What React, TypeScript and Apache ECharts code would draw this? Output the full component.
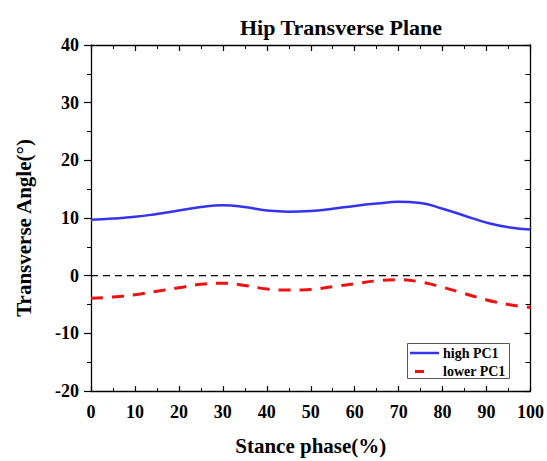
import React, { useEffect, useRef } from "react";
import * as echarts from "echarts";

// Stance phase (%) sampled every 5 %
const phase = [0, 5, 10, 15, 20, 25, 30, 35, 40, 45, 50, 55, 60, 65, 70, 75, 80, 85, 90, 95, 100];
// Hip transverse angle (°)
const highPC1 = [9.7, 9.9, 10.2, 10.7, 11.3, 11.9, 12.2, 11.9, 11.3, 11.1, 11.2, 11.6, 12.1, 12.5, 12.8, 12.6, 11.6, 10.4, 9.2, 8.4, 8.0];
const lowerPC1 = [-3.9, -3.7, -3.3, -2.7, -2.1, -1.5, -1.3, -1.7, -2.3, -2.5, -2.4, -1.9, -1.4, -0.9, -0.7, -1.1, -2.0, -3.1, -4.2, -5.0, -5.5];
const zeroLine = [0, 100];
const seriesNames = ["high PC1", "lower PC1"];

const FONT = '"Times New Roman", "Liberation Serif", serif';
const BLUE = "#3434ee";
const RED = "#ee1111";

export default function App() {
  const ref = useRef<HTMLDivElement>(null);

  useEffect(() => {
    if (!ref.current) return;
    const chart = echarts.init(ref.current, null, { renderer: "svg" });
    const axisLine = { show: true, onZero: false, lineStyle: { color: "#000", width: 1.3 } };
    const labelStyle = { color: "#000", fontFamily: FONT, fontWeight: "bold" as const, fontSize: 18 };
    const nameStyle = { fontFamily: FONT, fontWeight: "bold" as const, fontSize: 21, color: "#000" };
    const legendFont = `bold 14px ${FONT}`;

    chart.setOption({
      animation: false,
      backgroundColor: "#fff",
      title: {
        text: "Hip Transverse Plane",
        left: 336,
        textAlign: "center",
        top: 11,
        textStyle: { fontFamily: FONT, fontWeight: "bold", fontSize: 22, color: "#000" },
      },
      grid: { left: 91, right: 16, top: 45, bottom: 62 },
      // boxed key in the lower right corner: a solid blue sample and a single red dash
      graphic: [
        {
          type: "group",
          left: 407,
          top: 343,
          z: 100,
          silent: true,
          children: [
            {
              type: "rect",
              shape: { x: 0.5, y: 0.5, width: 102, height: 35 },
              style: { fill: "#fff", stroke: "#555", lineWidth: 1 },
            },
            {
              type: "line",
              shape: { x1: 3, y1: 10, x2: 32, y2: 10 },
              style: { stroke: BLUE, lineWidth: 2.5 },
            },
            {
              type: "line",
              shape: { x1: 8, y1: 28.5, x2: 17, y2: 28.5 },
              style: { stroke: RED, lineWidth: 3 },
            },
            {
              type: "text",
              x: 36,
              y: 10,
              style: { text: seriesNames[0], font: legendFont, fill: "#000", verticalAlign: "middle" },
            },
            {
              type: "text",
              x: 36,
              y: 28.5,
              style: { text: seriesNames[1], font: legendFont, fill: "#000", verticalAlign: "middle" },
            },
          ],
        },
      ],
      xAxis: [
        {
          type: "value",
          min: 0,
          max: 100,
          interval: 10,
          position: "bottom",
          name: "Stance phase(%)",
          nameLocation: "middle",
          nameGap: 44,
          nameTextStyle: nameStyle,
          axisLine,
          axisTick: { show: true, inside: true, length: 5, lineStyle: { color: "#000", width: 1.2 } },
          minorTick: { show: true, splitNumber: 2, length: 3, lineStyle: { color: "#000", width: 1 } },
          axisLabel: { ...labelStyle, margin: 12 },
          splitLine: { show: false },
        },
        {
          type: "value",
          min: 0,
          max: 100,
          interval: 10,
          position: "top",
          axisLine,
          axisTick: { show: true, inside: true, length: 6, lineStyle: { color: "#000", width: 1.2 } },
          minorTick: { show: true, splitNumber: 2, length: 4, lineStyle: { color: "#000", width: 1 } },
          axisLabel: { show: false },
          splitLine: { show: false },
        },
      ],
      yAxis: [
        {
          type: "value",
          min: -20,
          max: 40,
          interval: 10,
          position: "left",
          name: "Transverse Angle(°)",
          nameLocation: "middle",
          nameGap: 57,
          nameTextStyle: { ...nameStyle, padding: [0, 20, 0, 0] },
          axisLine,
          axisTick: { show: true, inside: false, length: 7, lineStyle: { color: "#000", width: 1.2 } },
          minorTick: { show: true, splitNumber: 2, length: 4, lineStyle: { color: "#000", width: 1 } },
          axisLabel: { ...labelStyle, margin: 12 },
          splitLine: { show: false },
        },
        {
          type: "value",
          min: -20,
          max: 40,
          interval: 10,
          position: "right",
          axisLine,
          axisTick: { show: true, inside: true, length: 6, lineStyle: { color: "#000", width: 1.2 } },
          minorTick: { show: true, splitNumber: 2, length: 5, lineStyle: { color: "#000", width: 1 } },
          axisLabel: { show: false },
          splitLine: { show: false },
        },
      ],
      series: [
        {
          name: "zero",
          type: "line",
          data: zeroLine.map((x) => [x, 0]),
          showSymbol: false,
          symbol: "none",
          silent: true,
          lineStyle: { color: "#000", width: 1.3, type: [7, 5] },
          z: 1,
        },
        {
          name: seriesNames[0],
          type: "line",
          data: phase.map((x, i) => [x, highPC1[i]]),
          smooth: true,
          showSymbol: false,
          symbol: "none",
          color: BLUE,
          lineStyle: { color: BLUE, width: 2.5 },
          z: 3,
        },
        {
          name: seriesNames[1],
          type: "line",
          data: phase.map((x, i) => [x, lowerPC1[i]]),
          smooth: true,
          showSymbol: false,
          symbol: "none",
          color: RED,
          lineStyle: { color: RED, width: 3, type: [12, 9] },
          z: 3,
        },
      ],
    });

    return () => chart.dispose();
  }, []);

  return (
    <div
      ref={ref}
      style={{ position: "fixed", left: 0, top: 0, width: 547, height: 461, background: "#fff" }}
    />
  );
}
